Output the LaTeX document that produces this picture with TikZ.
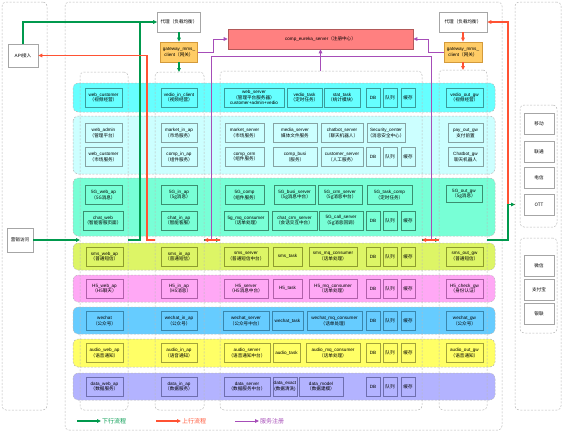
\documentclass[tikz,border=0pt]{standalone}
\usepackage{fontspec}
\setmainfont{Liberation Sans}
\newfontfamily\cjk{Noto Sans CJK SC}
\newcommand{\zh}[1]{{\cjk #1}}
\newcommand{\cellfont}{\fontsize{4.6}{5.7}\selectfont}
\usetikzlibrary{arrows.meta}

\definecolor{bandA}{HTML}{66FFFF}
\definecolor{lineA}{HTML}{3A9C9C}
\definecolor{bandB}{HTML}{CCFFFF}
\definecolor{lineB}{HTML}{86A3A3}
\definecolor{bandC}{HTML}{78FFD6}
\definecolor{lineC}{HTML}{3B8F70}
\definecolor{bandD}{HTML}{DDF566}
\definecolor{lineD}{HTML}{8E9C2E}
\definecolor{bandE}{HTML}{FFA8F5}
\definecolor{lineE}{HTML}{B060AA}
\definecolor{bandF}{HTML}{66CCFF}
\definecolor{lineF}{HTML}{3A86AC}
\definecolor{bandG}{HTML}{FFFF66}
\definecolor{lineG}{HTML}{A3A33A}
\definecolor{bandH}{HTML}{B3B3FF}
\definecolor{lineH}{HTML}{6E6EAE}
\definecolor{flowDown}{HTML}{00994D}
\definecolor{flowUp}{HTML}{FF5233}
\definecolor{flowReg}{HTML}{A64DB8}
\definecolor{gwFill}{HTML}{FFCC66}
\definecolor{gwLine}{HTML}{D39A3B}
\definecolor{regFill}{HTML}{FF8080}
\definecolor{regLine}{HTML}{B35959}

\tikzset{
  panel/.style={draw=gray!55, dashed, dash pattern=on 2pt off 1.5pt, line width=0.5pt, rounded corners=4pt, outer sep=0pt, inner sep=0pt},
  band/.style={fill=#1, draw=gray!55, dashed, dash pattern=on 2pt off 1.5pt, line width=0.5pt, rounded corners=5pt},
  cell/.style={draw=#1, line width=0.7pt, align=center, inner sep=0.4pt, minimum height=19pt, font=\cellfont},
  plainbox/.style={draw=gray!70, fill=white, line width=0.7pt, align=center, inner sep=0.5pt, minimum height=20pt, font=\cellfont},
  gwbox/.style={plainbox, draw=gwLine, fill=gwFill},
  regbox/.style={plainbox, draw=regLine, fill=regFill},
  legendtext/.style={font=\fontsize{6}{7}\selectfont\cjk, inner sep=1pt, anchor=west},
  downflow/.style={draw=flowDown, line width=1.3pt},
  upflow/.style={draw=flowUp, line width=1.1pt},
  regflow/.style={draw=flowReg, line width=0.8pt},
  flowtip/.style={-{Triangle[length=4pt,width=3.6pt]}},
}

\begin{document}
\begin{tikzpicture}[x=1pt, y=-1pt]
  \useasboundingbox (0,0) rectangle (563,431);

  % outer frames
  \node[panel, minimum width=45, minimum height=408] (leftPanel) at (24.5,206) {};
  \node[panel, minimum width=437, minimum height=428] (mainPanel) at (283.5,216) {};
  \node[panel, minimum width=46, minimum height=408] (rightPanel) at (538,206) {};
  \node[panel, minimum width=37, minimum height=122] (carrierPanel) at (538.5,166) {};
  \node[panel, minimum width=37, minimum height=95] (payPanel) at (538.5,285.5) {};

  % business rows
  \foreach \t/\b/\c in {83/112/bandA, 116/174/bandB, 178/236/bandC, 243/270/bandD,
                        275/302/bandE, 307/334/bandF, 339/367/bandG, 373/400/bandH}
    \draw[band=\c] (73,\t) rectangle (495,\b);

  % columns
  \node[panel, minimum width=48, minimum height=338] (webLane) at (104,241) {};
  \node[panel, minimum width=49, minimum height=338] (inapLane) at (179.5,241) {};
  \node[panel, minimum width=202, minimum height=339] (serverLane) at (321,240.5) {};
  \node[panel, minimum width=48, minimum height=340] (outgwLane) at (463,240) {};

  % top: proxies, gateways, registry
  \node[plainbox, minimum width=43] (proxyL) at (179,22) {\zh{代理（负载均衡）}};
  \node[gwbox, minimum width=37] (gwL) at (179,52) {gateway\_mms\_\\client\zh{（网关）}};
  \node[regbox, minimum width=185] (eureka) at (320.5,39) {comp\_eureka\_server\zh{（注册中心）}};
  \node[plainbox, minimum width=48] (proxyR) at (463,22) {\zh{代理（负载均衡）}};
  \node[gwbox, minimum width=38] (gwR) at (463,52) {gateway\_mms\_\\client\zh{（网关）}};

  % left entries
  \node[plainbox, minimum width=30, minimum height=23] (api) at (23,55.5) {API\zh{接入}};
  \node[plainbox, minimum width=26, minimum height=24] (visit) at (20,240) {\zh{营销访问}};

  % right: carriers and payment
  \foreach \n/\y/\t in {move/123.5/移动, unicom/151.5/联通, telecom/177.5/电信, ott/204.5/OTT,
                        wx/266/微信, alipay/290/支付宝, unionpay/314/银联}
    \node[plainbox, minimum width=30, minimum height=21] (\n) at (539,\y) {\zh{\t}};

  % row 1
  \node[cell=lineA, minimum width=37] (webCustomerA) at (103.5,97.5) {web\_customer\\\zh{（视频经营）}};
  \node[cell=lineA, minimum width=36] (vedioInClient) at (179,97.5) {vedio\_in\_client\\\zh{（视频经营）}};
  \node[cell=lineA, minimum width=60] (webServer) at (254,97.5) {web\_server\\\zh{（管理平台服务器）}\\customer+admin+vedio};
  \node[cell=lineA, minimum width=35] (vedioTask) at (304.5,97.5) {vedio\_task\\\zh{（定时任务）}};
  \node[cell=lineA, minimum width=36] (statTask) at (342,97.5) {stat\_task\\\zh{（统计模块）}};
  \node[cell=lineA, minimum width=37] (vedioOutGw) at (464.5,97.5) {vedio\_out\_gw\\\zh{（视频经营）}};

  % row 2
  \node[cell=lineB, minimum width=37] (webAdmin) at (103.5,133) {web\_admin\\\zh{（管理平台）}};
  \node[cell=lineB, minimum width=37] (webCustomerB) at (103.5,157) {web\_customer\\\zh{（市场服务）}};
  \node[cell=lineB, minimum width=36] (marketInAp) at (179,133) {market\_in\_ap\\\zh{（市场服务）}};
  \node[cell=lineB, minimum width=36] (compInAp) at (179,157) {comp\_in\_ap\\\zh{（组件服务）}};
  \node[cell=lineB, minimum width=39] (marketServer) at (244.5,133) {market\_server\\\zh{（市场服务）}};
  \node[cell=lineB, minimum width=44] (mediaServer) at (295,133) {media\_server\\\zh{媒体文件服务}};
  \node[cell=lineB, minimum width=42] (chatbotServer) at (342,133) {chatbot\_server\\\zh{（聊天机器人）}};
  \node[cell=lineB, minimum width=38] (securityCenter) at (386,133) {Security\_center\\\zh{（消息安全中心）}};
  \node[cell=lineB, minimum width=39] (compOrm) at (244.5,157) {comp\_orm\\\zh{（组件服务）}};
  \node[cell=lineB, minimum width=44] (compBusi) at (295,157) {comp\_busi\\\zh{（服务）}};
  \node[cell=lineB, minimum width=42] (customerServer) at (342,157) {customer\_server\\\zh{（人工服务）}};
  \node[cell=lineB, minimum width=35] (payOutGw) at (465.5,133) {pay\_out\_gw\\\zh{支付前置}};
  \node[cell=lineB, minimum width=35] (chatbotGw) at (465.5,157) {Chatbot\_gw\\\zh{聊天机器人}};

  % row 3
  \node[cell=lineC, minimum width=37] (web5g) at (103.5,195) {5G\_web\_ap\\\zh{（5G消息）}};
  \node[cell=lineC, minimum width=40] (chatWeb) at (103,220.5) {chat\_web\\\zh{（智能客服页面）}};
  \node[cell=lineC, minimum width=36] (in5g) at (179,195) {5G\_in\_ap\\\zh{（5g消息）}};
  \node[cell=lineC, minimum width=36] (chatInAp) at (179,220.5) {chat\_in\_ap\\\zh{（智能客服）}};
  \node[cell=lineC, minimum width=39] (comp5g) at (244.5,195) {5G\_comp\\\zh{（组件服务）}};
  \node[cell=lineC, minimum width=41] (busi5g) at (294.5,195) {5G\_busi\_server\\\zh{（5g消息中台）}};
  \node[cell=lineC, minimum width=44] (crm5g) at (340,195) {5G\_crm\_server\\\zh{（5g消息中台）}};
  \node[cell=lineC, minimum width=45] (task5g) at (389.5,195) {5G\_task\_comp\\\zh{（定时任务）}};
  \node[cell=lineC, minimum width=44] (mq5g) at (246,220.5) {5g\_mq\_consumer\\\zh{（话单处理）}};
  \node[cell=lineC, minimum width=45] (chatCrm) at (294.5,220.5) {chat\_crm\_server\\\zh{（会话交互中台）}};
  \node[cell=lineC, minimum width=44] (call5g) at (341,220.5) {5G\_call\_server\\\zh{（5g消息回调）}};
  \node[cell=lineC, minimum width=36, minimum height=17] (out5g) at (464,194) {5G\_out\_gw\\\zh{（5g消息）}};

  % row 4
  \node[cell=lineD, minimum width=37] (smsWebAp) at (104.5,256.5) {sms\_web\_ap\\\zh{（普通短信）}};
  \node[cell=lineD, minimum width=36] (smsInAp) at (179,256.5) {sms\_in\_ap\\\zh{（普通短信）}};
  \node[cell=lineD, minimum width=44] (smsServer) at (246,256.5) {sms\_server\\\zh{（普通短信中台）}};
  \node[cell=lineD, minimum width=29] (smsTask) at (287.5,256.5) {sms\_task};
  \node[cell=lineD, minimum width=48] (smsMq) at (333,256.5) {sms\_mq\_consumer\\\zh{（话单处理）}};
  \node[cell=lineD, minimum width=37] (smsOutGw) at (464.5,256.5) {sms\_out\_gw\\\zh{（普通短信）}};

  % row 5
  \node[cell=lineE, minimum width=37] (h5WebAp) at (104.5,288.5) {H5\_web\_ap\\\zh{（H5聊天）}};
  \node[cell=lineE, minimum width=36] (h5InAp) at (179,288.5) {H5\_in\_ap\\\zh{（H5消息）}};
  \node[cell=lineE, minimum width=44] (h5Server) at (246,288.5) {H5\_server\\\zh{（H5消息中台）}};
  \node[cell=lineE, minimum width=29] (h5Task) at (287.5,288.5) {H5\_task};
  \node[cell=lineE, minimum width=48] (h5Mq) at (333,288.5) {H5\_mq\_consumer\\\zh{（话单处理）}};
  \node[cell=lineE, minimum width=37] (h5CheckGw) at (464.5,288.5) {H5\_check\_gw\\\zh{（身份认证）}};

  % row 6
  \node[cell=lineF, minimum width=37] (wechatWeb) at (104.5,321) {wechat\\\zh{（公众号）}};
  \node[cell=lineF, minimum width=36] (wechatInAp) at (179,321) {wechat\_in\_ap\\\zh{（公众号）}};
  \node[cell=lineF, minimum width=46] (wechatServer) at (246,321) {wechat\_server\\\zh{（公众号中台）}};
  \node[cell=lineF, minimum width=31] (wechatTask) at (287.5,321) {wechat\_task};
  \node[cell=lineF, minimum width=55] (wechatMq) at (334.5,321) {wechat\_mq\_consumer\\\zh{（话单处理）}};
  \node[cell=lineF, minimum width=37] (wechatGw) at (464.5,321) {wechat\_gw\\\zh{（公众号）}};

  % row 7
  \node[cell=lineG, minimum width=37] (audioWebAp) at (104.5,353) {audio\_web\_ap\\\zh{（语音通知）}};
  \node[cell=lineG, minimum width=36] (audioInAp) at (179,353) {audio\_in\_ap\\\zh{（语音通知）}};
  \node[cell=lineG, minimum width=46] (audioServer) at (247,353) {audio\_server\\\zh{（语音通知中台）}};
  \node[cell=lineG, minimum width=27] (audioTask) at (286.5,353) {audio\_task};
  \node[cell=lineG, minimum width=54] (audioMq) at (333,353) {audio\_mq\_consumer\\\zh{（话单处理）}};
  \node[cell=lineG, minimum width=37] (audioOutGw) at (464.5,353) {audio\_out\_gw\\\zh{（语音通知）}};

  % row 8
  \node[cell=lineH, minimum width=37] (dataWebAp) at (104.5,386.5) {data\_web\_ap\\\zh{（数据服务）}};
  \node[cell=lineH, minimum width=36] (dataInAp) at (179,386.5) {data\_in\_ap\\\zh{（数据服务）}};
  \node[cell=lineH, minimum width=46] (dataServer) at (247,386.5) {data\_server\\\zh{（数据服务中台）}};
  \node[cell=lineH, minimum width=24] (dataExact) at (285,386.5) {data\_exact\\(\zh{数据清洗})};
  \node[cell=lineH, minimum width=44] (dataModel) at (321,386.5) {data\_model\\\zh{（数据建模）}};

  % storage in every row
  \foreach \y/\c/\r in {97.5/lineA/1, 157/lineB/2, 220.5/lineC/3, 256.5/lineD/4,
                        288.5/lineE/5, 321/lineF/6, 353/lineG/7, 386.5/lineH/8} {
    \node[cell=\c, minimum width=14] (db\r) at (373,\y) {DB};
    \node[cell=\c, minimum width=14] (mq\r) at (390,\y) {\zh{队列}};
    \node[cell=\c, minimum width=14] (cache\r) at (408,\y) {\zh{缓存}};
  }

  % bends of the flows
  \coordinate (busY) at (0,240);
  \coordinate (trunkDown) at (140,0);
  \coordinate (trunkUp) at (147,0);
  \coordinate (trunkOut) at (508,0);
  \coordinate (regLeft) at (211,56);
  \coordinate (regRight) at (431,56);

  % service registration
  \draw[regflow] (inapLane.east |- busY) -| (regLeft) -- (regRight) |- (outgwLane.west |- busY);
  \draw[regflow, flowtip] (eureka.south |- serverLane.north) -- (eureka.south);
  \draw[regflow, flowtip] (gwL.east) -- ++(16,0) |- (eureka.west);
  \draw[regflow, flowtip] (gwR.west) -- ++(-15,0) |- (eureka.east);

  % downstream
  \draw[downflow, flowtip] (api) |- (proxyL);
  \draw[downflow] (webLane.east |- busY) -| (trunkDown |- proxyL);
  \draw[downflow, flowtip] (visit) -- (visit -| webLane.west);
  \draw[downflow, flowtip] (proxyL) -- (gwL);
  \draw[downflow, flowtip] (gwL) -- (gwL |- inapLane.north);
  \draw[downflow, flowtip] (inapLane.east |- busY) -- (serverLane.west |- busY);
  \draw[downflow, flowtip] (serverLane.east |- busY) -- (outgwLane.west |- busY);

  % upstream
  \draw[upflow, flowtip] (rightPanel.west |- ott) -| (trunkOut |- proxyR) -- (proxyR);
  \draw[upflow, flowtip] (proxyR) -- (gwR);
  \draw[upflow, flowtip] (gwR) -- (gwR |- outgwLane.north);
  \draw[upflow, flowtip] (outgwLane.west |- busY) -- (serverLane.east |- busY);
  \draw[upflow, flowtip] (serverLane.west |- busY) -- (inapLane.east |- busY);
  \draw[upflow, flowtip] (inapLane.west |- busY) -| (trunkUp |- api) -- (api);

  \draw[downflow, flowtip] (outgwLane.east |- busY) -| (trunkOut |- ott) -- (rightPanel.west |- ott);

  % legend
  \coordinate (legDownFrom) at (77,421);
  \coordinate (legUpFrom) at (156,421);
  \coordinate (legRegFrom) at (235,421);
  \node[legendtext, text=flowDown] (legDown) at (101,421) {下行流程};
  \node[legendtext, text=flowUp] (legUp) at (181,421) {上行流程};
  \node[legendtext, text=flowReg] (legReg) at (259,421) {服务注册};
  \draw[downflow, flowtip] (legDownFrom) -- (legDown.west);
  \draw[upflow, flowtip] (legUpFrom) -- (legUp.west);
  \draw[regflow, flowtip] (legRegFrom) -- (legReg.west);
\end{tikzpicture}
\end{document}
